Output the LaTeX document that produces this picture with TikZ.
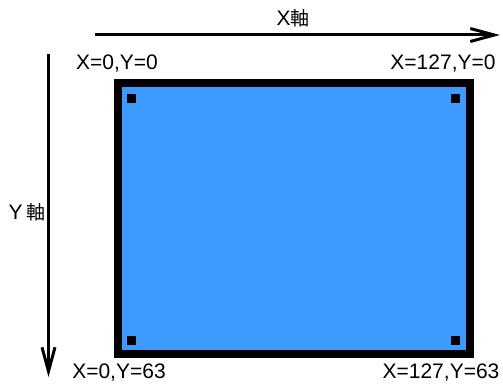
\documentclass[tikz,border=0pt]{standalone}
\usepackage{fontspec}
\setmainfont{Liberation Sans}
\newfontfamily\jpfont{Noto Sans CJK JP}
\usetikzlibrary{arrows.meta}

\definecolor{screenblue}{RGB}{61,155,255}

\begin{document}
\begin{tikzpicture}[x=1pt, y=-1pt,
  lbl/.style={font=\fontsize{21}{23}\selectfont, inner sep=0pt, anchor=center},
  axisarrow/.style={draw=black, line width=3pt, -{Straight Barb[length=24pt, width=13pt, line width=3pt]}},
  screen/.style={draw=black, line width=8pt, fill=screenblue},
  pixel/.style={fill=black, minimum size=9pt, inner sep=0pt}
]
\useasboundingbox (0,0) rectangle (503,385);

% display area
\draw[screen] (117.5,83.5) rectangle (469.5,353.5);
\node[pixel] (ptl) at (131.5,98.5) {};
\node[pixel] (ptr) at (455.5,98.5) {};
\node[pixel] (pbl) at (131.5,340) {};
\node[pixel] (pbr) at (455.5,340) {};

% axes
\coordinate (xs) at (95,35);
\coordinate (xe) at (500,35);
\coordinate (ys) at (48.5,54);
\coordinate (ye) at (48.5,377);
\draw[axisarrow] (xs) -- (xe);
\draw[axisarrow] (ys) -- (ye);
\node[lbl] (xlab) at (293,18) {X{\jpfont\fontsize{19}{21}\selectfont 軸}};
\node[lbl] (ylab) at (27,212) {Y\,{\jpfont\fontsize{19}{21}\selectfont 軸}};

% corner labels
\node[lbl] (ltl) at (117,64) {X=0,Y=0};
\node[lbl] (ltr) at (443,64) {X=127,Y=0};
\node[lbl] (lbl) at (119,373) {X=0,Y=63};
\node[lbl] (lbr) at (441,373) {X=127,Y=63};

\end{tikzpicture}
\end{document}
